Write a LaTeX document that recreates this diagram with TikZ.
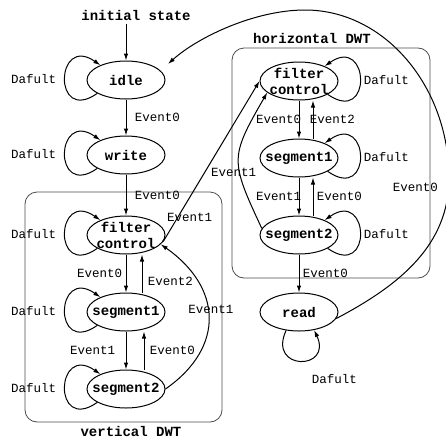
\documentclass[tikz,border=0pt]{standalone}
\usepackage{fontspec}
\setmonofont{Liberation Mono}
\usetikzlibrary{shapes.geometric,arrows.meta,positioning}

\begin{document}
\begin{tikzpicture}[x=1pt, y=1pt, node distance={77pt}, line width=1pt, >={Latex[length=7pt,width=4.5pt]},
    state/.style = {draw, ellipse, minimum width=78pt, minimum height=38pt, inner xsep=-8pt, inner ysep=-3pt, align=center, font=\fontsize{14}{16}\selectfont\ttfamily\bfseries},
    lbl/.style = {font=\fontsize{12.5}{13}\selectfont\ttfamily},
    title/.style = {font=\fontsize{14}{16}\selectfont\ttfamily\bfseries},
    dwtbox/.style = {draw=black!70, line width=0.8pt, rounded corners=12pt},
    loopl/.style = {out=215, in=145, distance=55pt},
    loopr/.style = {out=-35, in=35, distance=55pt}]
    \useasboundingbox (0,0) rectangle (446,-439);

    % the two DWT blocks
    \draw[dwtbox] (25,-192) rectangle (222,-422);
    \draw[dwtbox] (232,-48) rectangle (430,-278);
    \node[title] (vtitle) at (131,-431) {vertical DWT};
    \node[title] (htitle) at (312,-38) {horizontal DWT};

    \node[title] (init) at (136,-15) {initial state};
    \node[state] (idle) at (126,-80) {idle};
    \node[state] (write) at (126,-155) {write};
    \node[state] (vfc) at (126,-235) {filter\\control};
    \node[state] (vseg1) at (126,-312) {segment1};
    \node[state] (vseg2) [below of = vseg1] {segment2};

    \node[state] (hfc) at (299,-81) {filter\\control};
    \node[state] (hseg1) at (299,-158) {segment1};
    \node[state] (hseg2) [below of = hseg1] {segment2};
    \node[state] (read) [below of = hseg2] {read};

    \coordinate (arcright) at (449,-178);
    \coordinate (arctop) at (305,-10);
    \coordinate (idlein) at (168,-64);

    % default loops
    \draw[->] (idle.205) to[loopl] node [left=5pt, lbl] {Dafult} (idle.150);
    \draw[->] (write.205) to[loopl] node [left=5pt, lbl] {Dafult} (write.150);
    \draw[->] (vfc.205) to[loopl] node [left=5pt, lbl] {Dafult} (vfc.150);
    \draw[->] (vseg1.205) to[loopl] node [left=5pt, lbl] {Dafult} (vseg1.150);
    \draw[->] (vseg2.205) to[loopl] node [left=5pt, lbl] {Dafult} (vseg2.150);
    \draw[->] (hfc.-25) to[loopr] node [right=0pt, lbl] {Dafult} (hfc.30);
    \draw[->] (hseg1.-25) to[loopr] node [right=0pt, lbl] {Dafult} (hseg1.30);
    \draw[->] (hseg2.-25) to[loopr] node [right=0pt, lbl] {Dafult} (hseg2.30);
    \draw[->] (read.235) to[out=245, in=295, distance=45pt] node [pos=.5, below right=10pt and 8pt, lbl] {Dafult} (read.310);

    % vertical column
    \draw[->] (init.south -| idle.north) -- (idle);
    \draw[->] (idle) -- (write) node [midway, right=5pt, lbl] {Event0};
    \draw[->] (write) -- (vfc) node [midway, right=5pt, lbl] {Event0};
    \draw[->] (vfc) -- (vseg1) node [midway, left, lbl] {Event0};
    \draw[->] ([xshift=16pt]vseg1.north) -- ([xshift=16pt]vfc.south) node [pos=.3, right=2pt, lbl] {Event2};
    \draw[->] (vseg1) -- (vseg2) node [midway, left=7pt, lbl] {Event1};
    \draw[->] ([xshift=18pt]vseg2.north) -- ([xshift=18pt]vseg1.south) node [midway, right=2pt, lbl] {Event0};
    \draw[->] (vseg2.east) to[out=35, in=-35, distance=74pt] node [pos=.55, xshift=3pt, lbl] {Event1} (vfc.-15);
    \draw[->] (vfc.-10) -- (hfc.west) node [pos=.15, xshift=12pt, lbl] {Event1};

    % horizontal column
    \draw[->] (hfc) -- (hseg1) node [midway, left=-6pt, lbl] {Event0};
    \draw[->] ([xshift=14pt]hseg1.north) -- ([xshift=14pt]hfc.south) node [midway, right=-7pt, lbl] {Event2};
    \draw[->] (hseg1) -- (hseg2) node [midway, left=-6pt, lbl] {Event1};
    \draw[->] ([xshift=14pt]hseg2.north) -- ([xshift=14pt]hseg1.south) node [midway, right=0pt, lbl] {Event0};
    \draw[->] (hseg2) -- (read) node [midway, right=0pt, lbl] {Event0};
    \draw[->] (hseg2.170) to[out=115, in=240, distance=75pt] node [pos=.38, xshift=-6pt, lbl] {Event1} (hfc.200);

    % back to idle
    \draw[->] (read.-10) .. controls (400,-285) and (449,-245) .. (arcright) node [pos=.95, left=7pt, lbl] {Event0}
        .. controls (449,-87) and (385,-10) .. (arctop)
        .. controls (255,-10) and (198,-37) .. (idlein);

\end{tikzpicture}
\end{document}
